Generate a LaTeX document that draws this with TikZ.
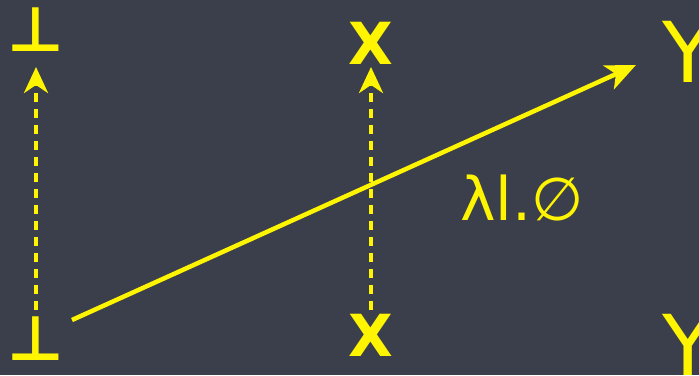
\documentclass[tikz,border=0pt]{standalone}
\usepackage{fontspec}
\setmainfont{DejaVu Sans}
\usetikzlibrary{arrows.meta}
\definecolor{board}{HTML}{3B3F4B}
\definecolor{chalk}{HTML}{FFF500}
\tikzset{
  glyph/.style={text=chalk, inner sep=0pt, anchor=center},
  dasharrow/.style={draw=chalk, line width=4pt, dash pattern=on 9pt off 7pt,
     -{Stealth[length=26pt,width=24pt,inset=8pt]}},
  mainarrow/.style={draw=chalk, line width=4.5pt,
     -{Stealth[length=30pt,width=26pt,inset=8pt]}}
}
\begin{document}
\begin{tikzpicture}[x=1pt,y=-1pt]
\fill[board] (0,0) rectangle (699,375);
\useasboundingbox (0,0) rectangle (699,375);
\node[glyph, font=\fontsize{62}{62}\selectfont\bfseries] (topbot) at (36,30) {⊥};
\node[glyph, font=\fontsize{62}{62}\selectfont\bfseries] (botbot) at (36,339) {⊥};
\node[glyph, font=\fontsize{58}{58}\selectfont\bfseries] (topx) at (371,43) {X};
\node[glyph, font=\fontsize{58}{58}\selectfont\bfseries] (botx) at (371,335) {X};
\node[glyph, font=\fontsize{84}{84}\selectfont, anchor=west] (topy) at (662,52) {Y};
\node[glyph, font=\fontsize{84}{84}\selectfont, anchor=west] (boty) at (662,345) {Y};
\node[glyph, font=\fontsize{60}{60}\selectfont] (lam) at (522,198) {λl.∅};
\coordinate (s) at (72,320);
\coordinate (e) at (636,65);
\draw[dasharrow, shorten <=29pt, shorten >=37pt] (botbot.center) -- (topbot.center);
\draw[dasharrow, shorten <=25pt, shorten >=24pt] (botx.center) -- (topx.center);
\draw[mainarrow] (s) -- (e);
\end{tikzpicture}
\end{document}
